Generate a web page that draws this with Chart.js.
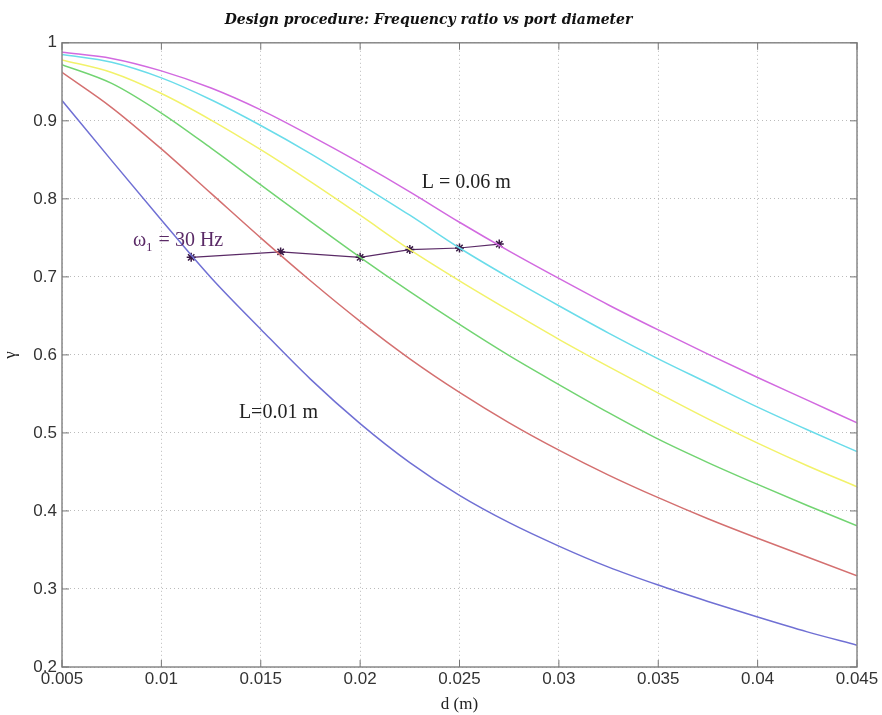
<!DOCTYPE html>
<html>
<head>
<meta charset="utf-8">
<script src="https://cdn.jsdelivr.net/npm/chart.js@4.4.0/dist/chart.umd.min.js"></script>
<style>
  html, body { margin: 0; padding: 0; background: #fff; }
  #wrap { width: 882px; height: 715px; position: relative; }
</style>
</head>
<body>
<div id="wrap"><canvas id="freqChart" width="882" height="715"></canvas></div>
<script>
// port diameter d (m)
const dValues = [0.005, 0.0075, 0.01, 0.0125, 0.015, 0.0175, 0.02, 0.0225, 0.025,
                 0.0275, 0.03, 0.0325, 0.035, 0.0375, 0.04, 0.0425, 0.045];

// frequency ratio for each port length L
const gammaL001 = [0.926, 0.849, 0.773, 0.699, 0.633, 0.569, 0.512, 0.462, 0.42,
                   0.385, 0.355, 0.328, 0.305, 0.284, 0.264, 0.245, 0.228];
const gammaL002 = [0.962, 0.917, 0.864, 0.807, 0.75, 0.695, 0.643, 0.595, 0.552,
                   0.513, 0.478, 0.446, 0.417, 0.39, 0.365, 0.341, 0.317];
const gammaL003 = [0.972, 0.948, 0.91, 0.865, 0.818, 0.771, 0.725, 0.681, 0.639,
                   0.599, 0.562, 0.526, 0.492, 0.462, 0.434, 0.407, 0.381];
const gammaL004 = [0.978, 0.962, 0.935, 0.901, 0.863, 0.822, 0.779, 0.735, 0.695,
                   0.657, 0.62, 0.585, 0.551, 0.518, 0.487, 0.458, 0.431];
const gammaL005 = [0.985, 0.975, 0.955, 0.927, 0.894, 0.858, 0.819, 0.779, 0.737,
                   0.699, 0.663, 0.628, 0.595, 0.564, 0.533, 0.504, 0.476];
const gammaL006 = [0.988, 0.98, 0.964, 0.942, 0.914, 0.881, 0.846, 0.809, 0.77,
                   0.733, 0.698, 0.664, 0.632, 0.601, 0.571, 0.542, 0.513];

// design points for omega_1 = 30 Hz
const designD     = [0.0115, 0.016, 0.02, 0.0225, 0.025, 0.027];
const designGamma = [0.725, 0.732, 0.725, 0.735, 0.737, 0.742];

const xTicks = [0.005, 0.01, 0.015, 0.02, 0.025, 0.03, 0.035, 0.04, 0.045];
const yTicks = [0.2, 0.3, 0.4, 0.5, 0.6, 0.7, 0.8, 0.9, 1];

const serif = '"Liberation Serif", "DejaVu Serif", serif';
const sans = '"Liberation Sans", Arial, sans-serif';

function toPoints(xs, ys) {
    return xs.map((x, i) => ({ x: x, y: ys[i] }));
}

function curve(ys, color) {
    return {
        data: toPoints(dValues, ys),
        borderColor: color,
        borderWidth: 1.5,
        pointRadius: 0,
        cubicInterpolationMode: 'monotone',
        fill: false
    };
}

// text labels placed on the plot (data coordinates)
const plotLabels = [
    { x: 0.0231, y: 0.82, text: 'L = 0.06 m' },
    { x: 0.0139, y: 0.526, text: 'L=0.01 m' },
];

// frame, inner ticks and text labels
const extras = {
    id: 'extras',
    afterDatasetsDraw(chart) {
        const { ctx, chartArea: a, scales } = chart;
        ctx.save();
        ctx.strokeStyle = '#888';
        ctx.lineWidth = 1.5;
        ctx.strokeRect(a.left, a.top, a.right - a.left, a.bottom - a.top);
        ctx.lineWidth = 1;
        ctx.strokeStyle = '#777';
        ctx.beginPath();
        xTicks.forEach(v => {
            const px = scales.x.getPixelForValue(v);
            ctx.moveTo(px, a.bottom); ctx.lineTo(px, a.bottom - 7);
            ctx.moveTo(px, a.top); ctx.lineTo(px, a.top + 7);
        });
        yTicks.forEach(v => {
            const py = scales.y.getPixelForValue(v);
            ctx.moveTo(a.left, py); ctx.lineTo(a.left + 7, py);
            ctx.moveTo(a.right, py); ctx.lineTo(a.right - 7, py);
        });
        ctx.stroke();

        ctx.fillStyle = '#222';
        ctx.font = '20px ' + serif;
        ctx.textBaseline = 'middle';
        plotLabels.forEach(l => {
            ctx.fillText(l.text, scales.x.getPixelForValue(l.x), scales.y.getPixelForValue(l.y));
        });

        // omega_1 label with subscript
        const ox = scales.x.getPixelForValue(0.00857);
        const oy = scales.y.getPixelForValue(0.746);
        ctx.fillStyle = '#5a2a66';
        ctx.font = '20px ' + serif;
        ctx.fillText('\u03c9', ox, oy);
        let w = ctx.measureText('\u03c9').width;
        ctx.font = '13px ' + serif;
        ctx.fillText('1', ox + w, oy + 7);
        w += ctx.measureText('1').width;
        ctx.font = '20px ' + serif;
        ctx.fillText(' = 30 Hz', ox + w + 1, oy);
        ctx.restore();
    }
};

new Chart(document.getElementById('freqChart').getContext('2d'), {
    type: 'line',
    data: {
        datasets: [
            curve(gammaL001, '#7070d4'),
            curve(gammaL002, '#d47070'),
            curve(gammaL003, '#72d472'),
            curve(gammaL004, '#f2f26a'),
            curve(gammaL005, '#6adcea'),
            curve(gammaL006, '#d26ae0'),
            {
                data: toPoints(designD, designGamma),
                borderColor: '#5a2a66',
                backgroundColor: '#5a2a66',
                borderWidth: 1.2,
                pointStyle: 'star',
                pointRadius: 4.5,
                pointBorderWidth: 1.5,
                pointBorderColor: '#3a1a46',
                tension: 0,
                fill: false
            }
        ]
    },
    options: {
        responsive: false,
        animation: false,
        layout: { padding: { left: 0, right: 25, top: 0, bottom: 0 } },
        plugins: {
            legend: { display: false },
            tooltip: { enabled: false },
            title: {
                display: true,
                text: 'Design procedure: Frequency ratio vs port diameter',
                color: '#111',
                font: { family: '"DejaVu Serif", serif', size: 14, style: 'italic', weight: 'bold' },
                padding: { top: 12, bottom: 14 }
            }
        },
        scales: {
            x: {
                type: 'linear',
                min: 0.005,
                max: 0.045,
                afterBuildTicks: s => { s.ticks = xTicks.map(v => ({ value: v })); },
                ticks: {
                    color: '#333',
                    font: { family: sans, size: 17 },
                    padding: 2,
                    maxRotation: 0,
                    callback: v => String(parseFloat(v.toFixed(4)))
                },
                grid: { color: '#bbb', borderDash: [1, 3], drawTicks: false, tickLength: 0 },
                border: { display: false, dash: [1, 3] },
                title: {
                    display: true,
                    text: 'd (m)',
                    color: '#222',
                    font: { family: serif, size: 17 },
                    padding: { top: 0, bottom: 0 }
                },
                afterFit: s => { s.height = 48; }
            },
            y: {
                type: 'linear',
                min: 0.2,
                max: 1,
                afterBuildTicks: s => { s.ticks = yTicks.map(v => ({ value: v })); },
                ticks: {
                    color: '#333',
                    font: { family: sans, size: 17 },
                    padding: 5,
                    callback: v => String(parseFloat(v.toFixed(2)))
                },
                grid: { color: '#bbb', drawTicks: false, tickLength: 0 },
                border: { display: false, dash: [1, 3] },
                title: {
                    display: true,
                    text: '\u03b3',
                    color: '#222',
                    font: { family: serif, size: 17 },
                    padding: { top: 0, bottom: 0 }
                },
                afterFit: s => { s.width = 62; }
            }
        }
    },
    plugins: [extras]
});
</script>
</body>
</html>
